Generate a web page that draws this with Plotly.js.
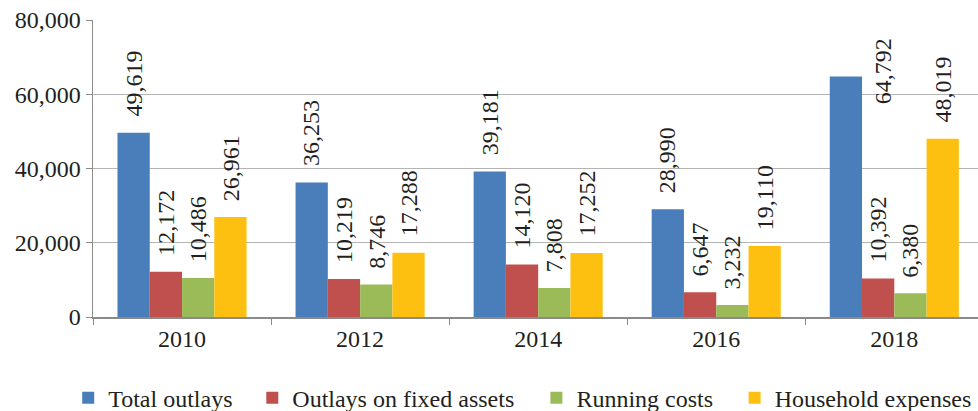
<!DOCTYPE html>
<html><head><meta charset="utf-8">
<script src="https://cdn.plot.ly/plotly-3.0.1.min.js"></script>
<style>html,body{margin:0;padding:0;background:#fff}#chart{width:978px;height:411px}</style>
</head><body><div id="chart"></div>
<script>
const years = ['2010','2012','2014','2016','2018'];
const seriesNames = ['Total outlays','Outlays on fixed assets','Running costs','Household expenses'];
const totalOutlays = [49619, 36253, 39181, 28990, 64792];
const fixedAssets = [12172, 10219, 14120, 6647, 10392];
const runningCosts = [10486, 8746, 7808, 3232, 6380];
const householdExp = [26961, 17288, 17252, 19110, 48019];
const colors = ['#4A7EBB','#C0504D','#9BBB59','#FDC010'];

const series = [totalOutlays, fixedAssets, runningCosts, householdExp];
const FONT = 'Liberation Serif, Times New Roman, serif';
const TXT = '#231F20';
const YMAX = 80000;
const BARGAP = 0.275;
const legendNames = ['legend','legend2','legend3','legend4'];
const legendX = [-0.028, 0.180, 0.501, 0.725];

function fmt(v){ return String(v).replace(/\B(?=(\d{3})+(?!\d))/g, ','); }

const traces = series.map((vals, j) => ({
  type: 'bar', x: years, y: vals, name: seriesNames[j],
  marker: {color: colors[j]}, legend: legendNames[j], hoverinfo: 'skip'
}));

const barW = (1 - BARGAP) / series.length;
const annotations = [];
series.forEach((vals, j) => {
  vals.forEach((v, i) => {
    const xc = i + (j - (series.length - 1) / 2) * barW;
    const overflow = v > YMAX * 0.78;
    annotations.push({
      x: overflow ? xc + 0.21 : xc, y: overflow ? YMAX : v, xref: 'x', yref: 'y',
      text: fmt(v), showarrow: false, textangle: -90,
      yanchor: overflow ? 'top' : 'bottom', yshift: overflow ? -16 : 14,
      font: {family: FONT, size: 24, color: TXT}
    });
  });
});

const layout = {
  width: 978, height: 411,
  margin: {l: 93, r: 0, t: 20, b: 94, autoexpand: false},
  paper_bgcolor: '#fff', plot_bgcolor: '#fff',
  font: {family: FONT, color: TXT, size: 24},
  barmode: 'group', bargap: BARGAP, bargroupgap: 0,
  xaxis: {type: 'category', range: [-0.5, 4.47], showgrid: false,
    showline: true, linecolor: '#8a8a8a', linewidth: 1.5,
    ticks: 'outside', tickson: 'boundaries', ticklen: 6, tickcolor: '#8a8a8a',
    tickfont: {family: FONT, size: 24, color: TXT}},
  yaxis: {range: [0, YMAX], dtick: 20000, tickformat: ',', showgrid: true,
    gridcolor: '#b4b4b4', gridwidth: 1, zeroline: false,
    showline: true, linecolor: '#8a8a8a', linewidth: 1.5,
    ticks: 'outside', ticklen: 6, tickcolor: '#8a8a8a',
    tickfont: {family: FONT, size: 24, color: TXT}},
  annotations: annotations,
  showlegend: true
};
legendNames.forEach((ln, j) => {
  layout[ln] = {orientation: 'h', x: legendX[j], xanchor: 'left', y: -0.273, yanchor: 'middle',
    bgcolor: 'rgba(0,0,0,0)', font: {family: FONT, size: 24, color: TXT}};
});

Plotly.newPlot('chart', traces, layout, {staticPlot: true, displayModeBar: false});
</script></body></html>
